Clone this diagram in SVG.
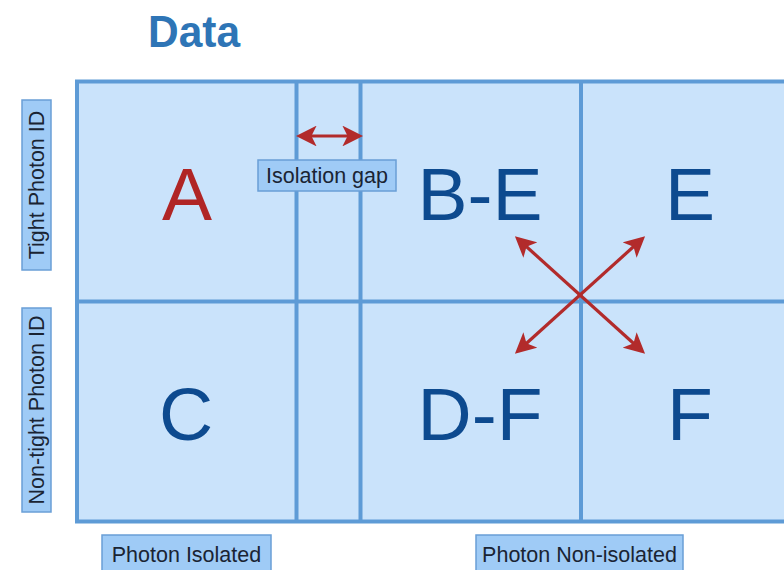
<svg xmlns="http://www.w3.org/2000/svg" width="784" height="570" viewBox="0 0 784 570">
<defs>
<style>
.grid{fill:none;stroke:#5e9bd6;stroke-width:4}
.lbl{fill:#9fcbf6;stroke:#6a9fd6;stroke-width:1.5}
.lt{font-family:"Liberation Sans",Arial,sans-serif;font-size:21.5px;fill:#1a2433}
.big{font-family:"Liberation Sans",Arial,sans-serif;font-size:75px;text-anchor:middle;fill:#0d4a8f}
.arr{stroke:#b22b2b;stroke-width:3.2;fill:none}
</style>
<marker id="ah" viewBox="0 0 10 10" refX="8" refY="5" markerWidth="6.5" markerHeight="6.5" markerUnits="strokeWidth" orient="auto-start-reverse">
<path d="M0,0 L10,5 L0,10 L2.5,5 Z" fill="#b22b2b"/>
</marker>
</defs>
<rect width="784" height="570" fill="#ffffff"/>
<text x="148" y="47" font-family="Liberation Sans,Arial,sans-serif" font-weight="bold" font-size="44" fill="#2e75b6" textLength="92" lengthAdjust="spacingAndGlyphs">Data</text>
<g id="grid">
<rect x="77" y="81.5" width="740" height="440" fill="#cae3fb"/>
<rect class="grid" x="77" y="81.5" width="740" height="440"/>
<line class="grid" x1="296.5" y1="81.5" x2="296.5" y2="521.5"/>
<line class="grid" x1="360.5" y1="81.5" x2="360.5" y2="521.5"/>
<line class="grid" x1="581" y1="81.5" x2="581" y2="521.5"/>
<line class="grid" x1="77" y1="301.5" x2="784" y2="301.5"/>
</g>
<g id="A"><text class="big" x="187" y="220" style="fill:#b02525">A</text></g>
<g id="BE"><text class="big" x="480" y="220">B-E</text></g>
<g id="E"><text class="big" x="690" y="220">E</text></g>
<g id="C"><text class="big" x="186" y="440">C</text></g>
<g id="DF"><text class="big" x="480" y="440">D-F</text></g>
<g id="F"><text class="big" x="690" y="440">F</text></g>
<g id="connectors">
<line class="arr" x1="300" y1="136" x2="359" y2="136" marker-start="url(#ah)" marker-end="url(#ah)"/>
<line class="arr" x1="518" y1="239" x2="642" y2="351" marker-start="url(#ah)" marker-end="url(#ah)"/>
<line class="arr" x1="642" y1="239" x2="518" y2="351" marker-start="url(#ah)" marker-end="url(#ah)"/>
</g>
<g id="isolation-gap">
<rect class="lbl" x="258" y="160" width="138" height="31"/>
<text class="lt" x="327" y="183" text-anchor="middle">Isolation gap</text>
</g>
<g id="tight">
<rect class="lbl" x="22" y="100" width="29" height="170"/>
<text class="lt" transform="translate(44,185) rotate(-90)" text-anchor="middle">Tight Photon ID</text>
</g>
<g id="nontight">
<rect class="lbl" x="22" y="308" width="29" height="204"/>
<text class="lt" transform="translate(44,410) rotate(-90)" text-anchor="middle">Non-tight Photon ID</text>
</g>
<g id="isolated">
<rect class="lbl" x="102" y="535" width="169" height="40"/>
<text class="lt" x="186.5" y="562" text-anchor="middle">Photon Isolated</text>
</g>
<g id="nonisolated">
<rect class="lbl" x="476" y="535" width="207" height="40"/>
<text class="lt" x="579.5" y="562" text-anchor="middle">Photon Non-isolated</text>
</g>
</svg>
